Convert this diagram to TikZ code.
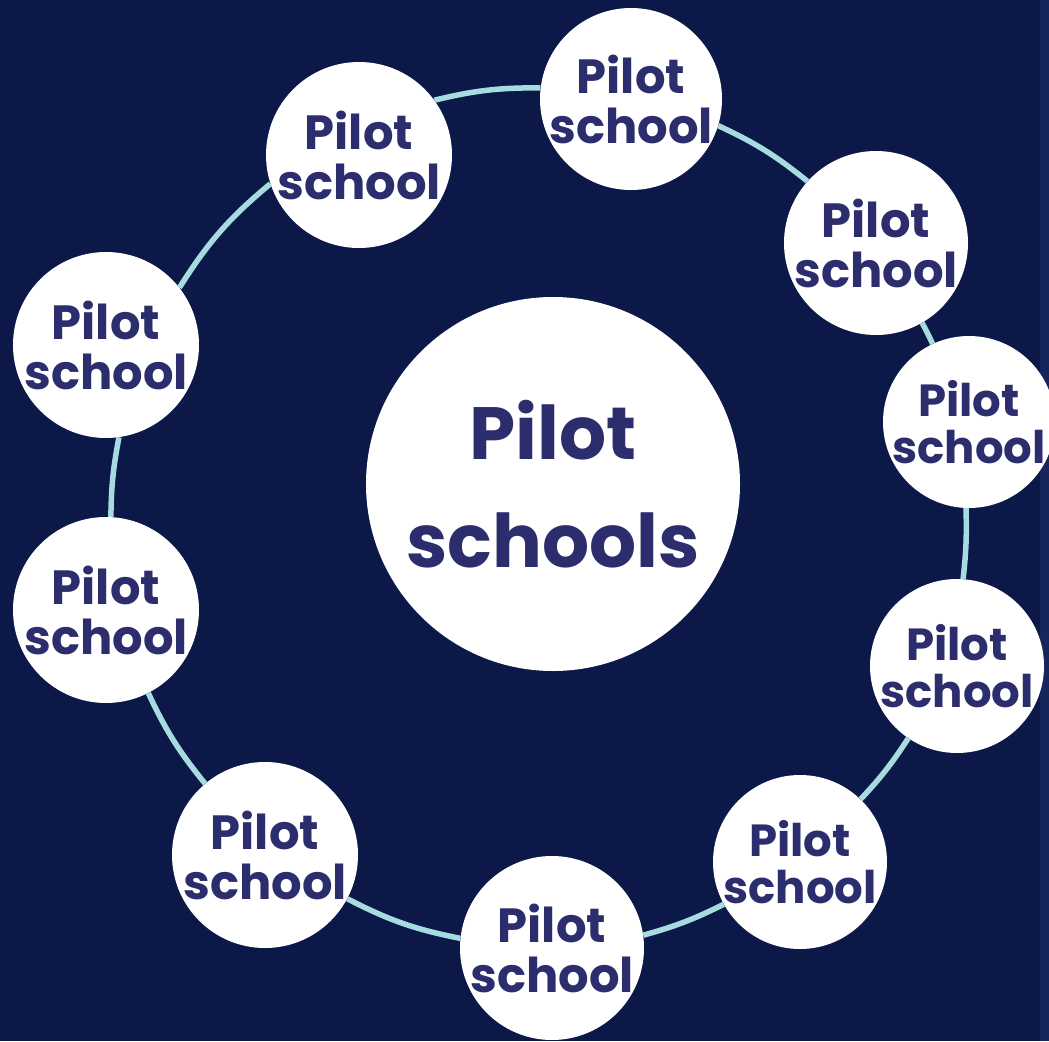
\documentclass[tikz,border=0pt]{standalone}
\usepackage{fontspec}
\setmainfont{Poppins}
\definecolor{bgnavy}{HTML}{0B1848}
\definecolor{edgestrip}{HTML}{17265A}
\definecolor{ringblue}{HTML}{A6DCE0}
\definecolor{textnavy}{HTML}{2C2D6D}
\begin{document}
\begin{tikzpicture}[x=1pt,y=-1pt,
  school/.style={circle,fill=white,inner sep=-40pt,minimum size=#1,align=center,
    text=textnavy,font=\fontsize{48}{50}\selectfont\bfseries},
  smallschool/.style={school=#1,font=\fontsize{45}{47}\selectfont\bfseries},
  hub/.style={circle,fill=white,inner sep=-80pt,minimum size=374pt,align=center,
    text=textnavy,font=\fontsize{74}{108}\selectfont\bfseries},
  ring/.style={draw=ringblue,line width=5.5pt}]
\fill[bgnavy] (0,0) rectangle (1049,1041);
\fill[edgestrip] (1040,0) rectangle (1049,1041);
\useasboundingbox (0,0) rectangle (1049,1041);
\node[school=182pt] (s1) at (631,99) {Pilot\\school};
\node[school=184pt] (s2) at (876,243) {Pilot\\school};
\node[smallschool=172pt] (s3) at (969,422) {Pilot\\school};
\node[smallschool=174pt] (s4) at (957,666) {Pilot\\school};
\node[smallschool=174pt] (s5) at (800,862) {Pilot\\school};
\node[school=184pt] (s6) at (552,948) {Pilot\\school};
\node[school=186pt] (s7) at (265,855) {Pilot\\school};
\node[school=186pt] (s8) at (106,610) {Pilot\\school};
\node[school=186pt] (s9) at (106,345) {Pilot\\school};
\node[school=186pt] (s10) at (359,155) {Pilot\\school};
\node[hub] (hub) at (553,484) {Pilot\\schools};
\draw[ring] (s1.-17.5) to[bend left=7] (s2.138.6);
\draw[ring] (s2.-60.7) to[bend left=2] (s3.115);
\draw[ring] (s3.-92) to[bend left=4] (s4.86.7);
\draw[ring] (s4.-124.6) to[bend left=5] (s5.46);
\draw[ring] (s5.-151) to[bend left=5.5] (s6.8);
\draw[ring] (s6.174) to[bend left=8] (s7.-28.5);
\draw[ring] (s7.130.6) to[bend left=7] (s8.-63);
\draw[ring] (s8.87.5) to[bend left=5] (s9.-82.6);
\draw[ring] (s9.38.9) to[bend left=9] (s10.-162.8);
\draw[ring] (s10.36.6) to[bend left=7] (s1.173);
\end{tikzpicture}
\end{document}
